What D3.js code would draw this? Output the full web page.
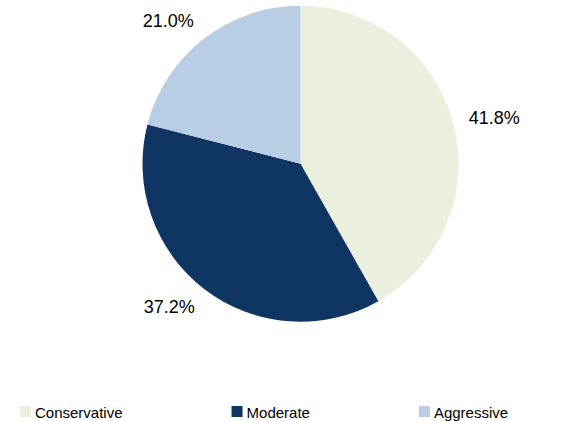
<!DOCTYPE html>
<html lang="en">
<head>
<meta charset="UTF-8">
<title>Risk profile pie</title>
<style>
  body { margin: 0; background: #fff; }
  svg { display: block; font-family: 'Liberation Sans', Arial, sans-serif; }
</style>
</head>
<body>
<svg id="chart" width="582" height="421"></svg>
<script src="https://d3js.org/d3.v7.min.js"></script>
<script>
// slice data, clockwise from 12 o'clock
const categories = ["Conservative", "Moderate", "Aggressive"];
const shares = [41.8, 37.2, 21.0];
const colors = ["#EBEFDE", "#0F3562", "#B9CDE5"];

const svg = d3.select("#chart");
const cx = 300.5, cy = 163.7, r = 158;

const pie = d3.pie().sort(null).value(d => d)(shares);
const arc = d3.arc().innerRadius(0).outerRadius(r);

const g = svg.append("g").attr("transform", `translate(${cx},${cy})`);

g.selectAll("path.slice")
  .data(pie)
  .join("path")
    .attr("class", "slice")
    .attr("d", arc)
    .attr("fill", (d, i) => colors[i]);

// "outside end" labels: box pushed out sideways from an anchor ring
const r0 = 174, hh = 7;
g.selectAll("text.lbl")
  .data(pie)
  .join("text")
    .attr("class", "lbl")
    .attr("text-anchor", "middle")
    .attr("dominant-baseline", "central")
    .attr("font-size", 18)
    .attr("fill", "#000")
    .text(d => d.value.toFixed(1) + "%")
    .each(function(d){
      const a = (d.startAngle + d.endAngle) / 2;
      const s = Math.sin(a), c = Math.cos(a);
      const hw = this.getComputedTextLength() / 2;
      const x = r0 * s + hw * Math.sign(s);
      const y = -r0 * c - hh * c;
      d3.select(this).attr("x", x).attr("y", y);
    });

// legend: equal gaps between items
const legY = 406, box = 11, gap = 109;
const leg = svg.selectAll("g.leg")
  .data(categories)
  .join("g")
    .attr("class", "leg");

leg.append("rect")
  .attr("width", box).attr("height", box)
  .attr("fill", (d, i) => colors[i]);

leg.append("text")
  .attr("x", 15).attr("y", box / 2 + 0.5)
  .attr("dominant-baseline", "central")
  .attr("font-size", 15)
  .attr("fill", "#000")
  .text(d => d);

let lx = 20;
leg.each(function(){
  const w = 15 + d3.select(this).select("text").node().getComputedTextLength();
  d3.select(this).attr("transform", `translate(${lx},${legY})`);
  lx += w + gap;
});
</script>
</body>
</html>
